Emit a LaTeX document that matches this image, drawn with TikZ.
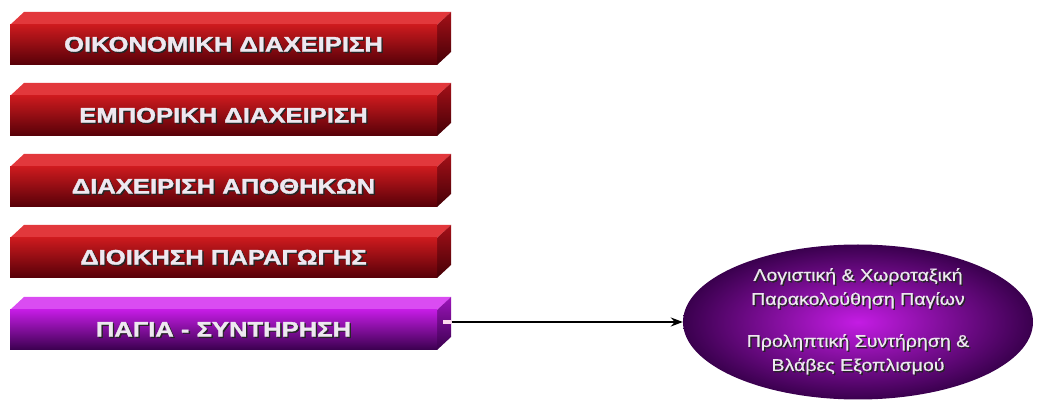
\documentclass[tikz,border=0pt]{standalone}
\usepackage{fontspec}
\setmainfont{Liberation Sans}
\newfontfamily\barfont[FakeStretch=1.22, BoldFeatures={FakeBold=1.6}]{Liberation Sans}
\newfontfamily\bubblefont[FakeStretch=1.15, FakeBold=0.6]{Liberation Sans}
\usetikzlibrary{shapes.geometric,arrows.meta,positioning}

% bar and bubble colours
\definecolor{barred}{HTML}{CC1A1E}
\definecolor{bardark}{HTML}{560008}
\definecolor{bartop}{HTML}{E2383C}
\definecolor{barside}{HTML}{A41018}
\definecolor{assetpurple}{HTML}{C41CE4}
\definecolor{assetdark}{HTML}{3A004E}
\definecolor{assettop}{HTML}{DA4CF2}
\definecolor{assetside}{HTML}{9C14BA}
\definecolor{labelgrey}{HTML}{EEE8F0}

% light text with a dark drop shadow
\newcommand{\embossed}[1]{\rlap{\kern1.4pt\raisebox{-1.4pt}{\color{black!85}#1}}#1}

\tikzset{
  barfront/.style={minimum width=427pt, minimum height=40pt, inner sep=0pt,
    text=labelgrey, font=\barfont\fontsize{21}{21}\selectfont\bfseries},
  bubble/.style={ellipse, minimum width=350pt, minimum height=155pt, inner sep=0pt,
    inner color=assetpurple, outer color=assetdark, text=labelgrey, align=center,
    font=\bubblefont\fontsize{17}{24}\selectfont}
}

\begin{document}
\begin{tikzpicture}[x=1pt, y=-1pt]
    \useasboundingbox (0,0) rectangle (1061,403);

    % Red 3D bars, one per module
    \foreach \name/\ypos/\txt in {fin/45/ΟΙΚΟΝΟΜΙΚΗ ΔΙΑΧΕΙΡΙΣΗ, sales/116/ΕΜΠΟΡΙΚΗ ΔΙΑΧΕΙΡΙΣΗ,
        stock/187/ΔΙΑΧΕΙΡΙΣΗ ΑΠΟΘΗΚΩΝ, prod/258/ΔΙΟΙΚΗΣΗ ΠΑΡΑΓΩΓΗΣ} {
        \fill[bartop] (10,\ypos-20) -- ++(14,-13) -- ++(427,0) -- ++(-14,13) -- cycle;
        \shade[top color=barside, bottom color=bardark!80!black] (437,\ypos-20) -- ++(14,-13) -- ++(0,40) -- ++(-14,13) -- cycle;
        \node[barfront, top color=barred, bottom color=bardark] (\name) at (223.5,\ypos) {\embossed{\txt}};
    }

    % Purple bar for fixed assets
    \fill[assettop] (10,310) -- ++(14,-13) -- ++(427,0) -- ++(-14,13) -- cycle;
    \shade[top color=assetside, bottom color=assetdark] (437,310) -- ++(14,-13) -- ++(0,40) -- ++(-14,13) -- cycle;
    \node[barfront, top color=assetpurple, bottom color=assetdark] (assets) at (223.5,330) {\embossed{ΠΑΓΙΑ - ΣΥΝΤΗΡΗΣΗ}};
    \node[fill=white!85!magenta, minimum width=9pt, minimum height=4pt, inner sep=0pt] (tab) at (447,322) {};

    % Asset tracking bubble
    \node[bubble] (ell) at (858,322) {\embossed{Λογιστική \& Χωροταξική}\\ \embossed{Παρακολούθηση Παγίων}\\[18pt]
        \embossed{Προληπτική Συντήρηση \&}\\ \embossed{Βλάβες Εξοπλισμού}};

    \draw[line width=1.6pt, -{Stealth[length=12pt, width=9pt]}] (tab.east) -- (ell.west);
\end{tikzpicture}
\end{document}
